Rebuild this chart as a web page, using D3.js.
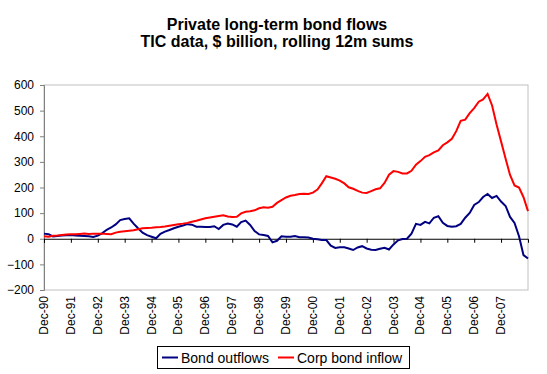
<!DOCTYPE html>
<html>
<head>
<meta charset="utf-8">
<script src="https://cdn.jsdelivr.net/npm/d3@7"></script>
<style>
  body { margin: 0; background: #fff; }
  svg text { font-family: "Liberation Sans", Arial, sans-serif; fill: #000; }
</style>
</head>
<body>
<div id="chart"></div>
<script>
// rolling 12m sums, $ billion, one value every 2 months from Dec-90
let startMonth = new Date(1990, 11, 1);
let stepMonths = 2;

let bondOutflows = [
  20, 18, 9, 11, 13, 14, 15, 13, 12, 11, 10, 7, 12, 22, 35, 44, 56, 73, 77, 80,
  59, 41, 24, 14, 8, 2, 19, 28, 34, 41, 47, 52, 57, 55, 47, 47, 46, 46, 49, 38,
  54, 59, 56, 47, 65, 71, 54, 30, 17, 15, 11, -14, -8, 10, 8, 8, 11, 6, 6, 5,
  0, -2, -5, -5, -27, -36, -33, -33, -38, -44, -34, -29, -38, -43, -44, -39, -35, -42, -22, -6,
  -1, 0, 20, 58, 54, 66, 60, 82, 88, 62, 50, 47, 49, 58, 82, 101, 132, 143, 163, 175,
  159, 167, 145, 128, 85, 62, 10, -64, -77
];

let corpInflow = [
  10, 8, 12, 13, 15, 17, 18, 18, 19, 20, 19, 20, 20, 20, 19, 18, 24, 27, 29, 31,
  33, 37, 41, 42, 43, 45, 46, 48, 51, 54, 57, 59, 62, 66, 70, 75, 80, 83, 86, 89,
  92, 87, 85, 86, 99, 105, 107, 111, 119, 123, 121, 125, 140, 151, 161, 168, 171, 175, 176, 175,
  180, 192, 216, 244, 239, 234, 227, 216, 201, 195, 187, 180, 179, 186, 193, 197, 218, 250, 264, 261,
  255, 255, 265, 289, 303, 320, 326, 337, 345, 365, 376, 390, 420, 460, 465, 490, 510, 535, 544, 565,
  520, 446, 380, 312, 249, 208, 200, 162, 108
];

let tickLabels = ["Dec-90", "Dec-91", "Dec-92", "Dec-93", "Dec-94", "Dec-95", "Dec-96", "Dec-97", "Dec-98",
  "Dec-99", "Dec-00", "Dec-01", "Dec-02", "Dec-03", "Dec-04", "Dec-05", "Dec-06", "Dec-07"];
let yTicks = [-200, -100, 0, 100, 200, 300, 400, 500, 600];

let width = 547;
let height = 374;
let plotLeft = 44, plotRight = 528, plotTop = 85, plotBottom = 290;

let dateOf = (i) => d3.timeMonth.offset(startMonth, i * stepMonths);

let xScale = d3.scaleTime()
    .domain([startMonth, new Date(2008, 11, 1)])
    .range([plotLeft, plotRight]);

let yScale = d3.scaleLinear()
    .domain([-200, 600])
    .range([plotBottom, plotTop]);

let svg = d3.select("#chart")
    .append("svg")
    .attr("width", width)
    .attr("height", height);

// title
svg.append("text")
    .attr("x", 277).attr("y", 30)
    .attr("text-anchor", "middle")
    .style("font-size", "16px").style("font-weight", "bold")
    .text("Private long-term bond flows");
svg.append("text")
    .attr("x", 277).attr("y", 47)
    .attr("text-anchor", "middle")
    .style("font-size", "16px").style("font-weight", "bold")
    .text("TIC data, $ billion, rolling 12m sums");

// plot area border
svg.append("rect")
    .attr("x", plotLeft).attr("y", plotTop)
    .attr("width", plotRight - plotLeft).attr("height", plotBottom - plotTop)
    .attr("fill", "none")
    .attr("stroke", "#c0c0c0");

// y axis
let y_axis = d3.axisLeft(yScale).tickValues(yTicks).tickSize(4).tickPadding(6);
let yg = svg.append("g")
    .attr("transform", `translate(${plotLeft}, 0)`)
    .call(y_axis);
yg.select(".domain").attr("stroke", "#808080");
yg.selectAll(".tick line").attr("stroke", "#808080");
yg.selectAll("text").style("font-size", "12px").attr("fill", "#000");

// x axis at zero
let tickDates = tickLabels.map((d, i) => new Date(1990 + i, 11, 1));
let x_axis = d3.axisBottom(xScale).tickValues(tickDates).tickSize(4).tickFormat("");
svg.append("g")
    .attr("transform", `translate(0, ${yScale(0)})`)
    .call(x_axis)
    .call(g => g.select(".domain").attr("stroke", "#000"));

// rotated category labels along the bottom
svg.selectAll(".xlab")
    .data(tickLabels)
    .join("text")
    .attr("class", "xlab")
    .attr("transform", (d, i) => `translate(${xScale(tickDates[i]) + 4}, ${plotBottom + 6}) rotate(-90)`)
    .attr("text-anchor", "end")
    .style("font-size", "12px")
    .text(d => d);

let lineGenerator = d3.line()
    .x((d, i) => xScale(dateOf(i)))
    .y(d => yScale(d));

svg.append("path")
    .datum(bondOutflows)
    .attr("fill", "none")
    .attr("stroke", "#000080")
    .attr("stroke-width", 2)
    .attr("d", lineGenerator);

svg.append("path")
    .datum(corpInflow)
    .attr("fill", "none")
    .attr("stroke", "#ff0000")
    .attr("stroke-width", 2)
    .attr("d", lineGenerator);

// legend
let legend = svg.append("g");
legend.append("rect")
    .attr("x", 157.5).attr("y", 346.5)
    .attr("width", 252).attr("height", 22)
    .attr("fill", "#fff").attr("stroke", "#000");
let items = [
  { name: "Bond outflows", color: "#000080", x: 162 },
  { name: "Corp bond inflow", color: "#ff0000", x: 278 }
];
items.forEach(it => {
  legend.append("line")
      .attr("x1", it.x).attr("x2", it.x + 16)
      .attr("y1", 357.5).attr("y2", 357.5)
      .attr("stroke", it.color).attr("stroke-width", 2);
  legend.append("text")
      .attr("x", it.x + 19).attr("y", 362.5)
      .style("font-size", "14px")
      .text(it.name);
});
</script>
</body>
</html>
